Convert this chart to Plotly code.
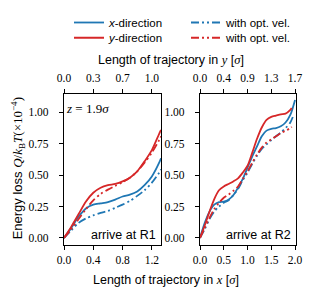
import plotly.graph_objects as go

BLUE = "#1f77b4"
RED = "#d62728"

# ---- data: arrive at R1 (left panel) ----
x_r1 = [0, 0.1, 0.2, 0.3, 0.4, 0.5, 0.6, 0.7, 0.8, 0.9, 1.0, 1.1, 1.2, 1.3, 1.325]
blue_solid_r1 = [0, 0.08, 0.17, 0.235, 0.265, 0.275, 0.285, 0.305, 0.33, 0.345, 0.37, 0.42, 0.49, 0.6, 0.635]
blue_opt_r1 = [0, 0.06, 0.12, 0.155, 0.18, 0.2, 0.215, 0.24, 0.265, 0.295, 0.335, 0.38, 0.44, 0.52, 0.545]
red_solid_r1 = [0, 0.09, 0.19, 0.29, 0.36, 0.40, 0.42, 0.43, 0.45, 0.48, 0.53, 0.61, 0.7, 0.83, 0.86]
red_opt_r1 = [0, 0.07, 0.15, 0.23, 0.3, 0.35, 0.385, 0.415, 0.445, 0.48, 0.53, 0.6, 0.68, 0.78, 0.81]

# ---- data: arrive at R2 (right panel) ----
x_r2_blue = [0, 0.1, 0.2, 0.3, 0.4, 0.5, 0.6, 0.7, 0.8, 0.9, 1.0, 1.1, 1.2, 1.3, 1.4, 1.5, 1.6, 1.7, 1.8, 1.9, 2.0]
blue_solid_r2 = [0, 0.12, 0.21, 0.265, 0.285, 0.29, 0.305, 0.34, 0.40, 0.47, 0.56, 0.65, 0.73, 0.81, 0.855, 0.87, 0.875, 0.89, 0.92, 0.98, 1.10]
x_r2_blue_opt = [0, 0.1, 0.2, 0.3, 0.4, 0.5, 0.6, 0.7, 0.8, 0.9, 1.0, 1.1, 1.2, 1.3, 1.4, 1.5, 1.6, 1.7, 1.8, 1.9, 1.97]
blue_opt_r2 = [0, 0.07, 0.15, 0.21, 0.25, 0.28, 0.30, 0.34, 0.39, 0.46, 0.52, 0.59, 0.655, 0.71, 0.745, 0.78, 0.81, 0.84, 0.875, 0.92, 0.98]
x_r2_red = [0, 0.1, 0.2, 0.3, 0.4, 0.5, 0.6, 0.7, 0.8, 0.9, 1.0, 1.1, 1.2, 1.3, 1.4, 1.5, 1.6, 1.7, 1.8, 1.9, 1.93]
red_solid_r2 = [0, 0.10, 0.21, 0.31, 0.38, 0.41, 0.43, 0.45, 0.475, 0.52, 0.575, 0.68, 0.79, 0.88, 0.94, 0.965, 0.975, 0.985, 0.99, 1.02, 1.035]
red_opt_r2 = [0, 0.08, 0.16, 0.23, 0.28, 0.32, 0.345, 0.375, 0.41, 0.47, 0.53, 0.60, 0.665, 0.72, 0.76, 0.785, 0.81, 0.835, 0.855, 0.875, 0.885]

# ---- ticks ----
y_ticks = [0.0, 0.25, 0.5, 0.75, 1.0]
y_ticklabels = ["0.00", "0.25", "0.50", "0.75", "1.00"]
x1_ticks = [0.0, 0.4, 0.8, 1.2]
x1_ticklabels = ["0.0", "0.4", "0.8", "1.2"]
x1_top_ticklabels = ["0.0", "0.3", "0.7", "1.0"]
x2_ticks = [0.0, 0.5, 1.0, 1.5, 2.0]
x2_ticklabels = ["0.0", "0.5", "1.0", "1.5", "2.0"]
x2_top_ticklabels = ["0.0", "0.4", "0.9", "1.3", "1.7"]

SERIF = "Liberation Serif"
SANS = "Liberation Sans"
DASH = "8px,3px,2px,3px,2px,3px"
LW = 1.8

W, H = 316, 299
OFF = 8  # page body margin offset


def px(x):
    return (x - OFF) / W


def py(y):
    return 1 - (y - OFF) / H


fig = go.Figure()


def add(x, y, color, dash, name, xa, ya, show, legend="legend", opacity=1.0):
    fig.add_trace(go.Scatter(
        x=x, y=y, mode="lines", name=name, showlegend=show, opacity=opacity,
        legend=legend,
        line=dict(color=color, width=LW, dash=dash, shape="spline", smoothing=0.8),
        xaxis=xa, yaxis=ya, hoverinfo="skip"))


add(x_r1, blue_solid_r1, BLUE, "solid", "<i>x</i>-direction", "x", "y", True, "legend")
add(x_r1, blue_opt_r1, BLUE, DASH, "with opt. vel.", "x", "y", True, "legend")
add(x_r1, red_solid_r1, RED, "solid", "<i>y</i>-direction", "x", "y", True, "legend2")
add(x_r1, red_opt_r1, RED, DASH, "with opt. vel.", "x", "y", True, "legend2")

add(x_r2_blue, blue_solid_r2, BLUE, "solid", "x2", "x2", "y2", False)
add(x_r2_blue_opt, blue_opt_r2, BLUE, DASH, "x2o", "x2", "y2", False)
add(x_r2_red, red_solid_r2, RED, "solid", "y2", "x2", "y2", False)
add(x_r2_red, red_opt_r2, RED, DASH, "y2o", "x2", "y2", False)

# transparent copies so the top (secondary) axes get drawn
add(x_r1, red_solid_r1, RED, "solid", "top1", "x3", "y", False, opacity=0)
add(x_r2_red, red_solid_r2, RED, "solid", "top2", "x4", "y2", False, opacity=0)

d1 = [px(64), px(161)]
d2 = [px(200), px(296)]
dy = [py(244), py(90)]
yr = [-0.057, 1.15]

tickfont = dict(family=SERIF, size=11.5, color="black")
common_x = dict(showline=True, linecolor="black", linewidth=1.2, mirror=True,
                ticks="outside", ticklen=4, tickwidth=1, tickcolor="black",
                showgrid=False, zeroline=False, tickfont=tickfont,
                automargin=False)
common_y = dict(showline=True, linecolor="black", linewidth=1.2, mirror=True,
                ticks="outside", ticklen=4, tickwidth=1, tickcolor="black",
                showgrid=False, zeroline=False, tickfont=tickfont,
                range=yr, tickvals=y_ticks, ticktext=y_ticklabels,
                ticklabelstandoff=8, automargin=False)
top_x = dict(side="top", ticks="outside", ticklen=4, tickwidth=1, tickcolor="black",
             showgrid=False, zeroline=False, showline=False, tickfont=tickfont,
             ticklabelstandoff=2, automargin=False)

legfont = dict(family=SANS, size=11.5, color="black")
fig.update_layout(
    template="none",
    width=W, height=H,
    margin=dict(l=0, r=0, t=0, b=0, pad=0),
    paper_bgcolor="white", plot_bgcolor="white",
    xaxis=dict(domain=d1, anchor="y", range=[0, 1.325], tickvals=x1_ticks,
               ticktext=x1_ticklabels, **common_x),
    yaxis=dict(domain=dy, anchor="x", **common_y),
    xaxis2=dict(domain=d2, anchor="y2", range=[0, 2.02], tickvals=x2_ticks,
                ticktext=x2_ticklabels, **common_x),
    yaxis2=dict(domain=dy, anchor="x2", **common_y),
    xaxis3=dict(overlaying="x", anchor="y", range=[0, 1.325],
                tickvals=x1_ticks, ticktext=x1_top_ticklabels, **top_x),
    xaxis4=dict(overlaying="x2", anchor="y2", range=[0, 2.02],
                tickvals=x2_ticks, ticktext=x2_top_ticklabels, **top_x),
    showlegend=True,
    legend=dict(orientation="h", x=px(69), y=1 + 5.6 / H, xanchor="left", yanchor="top",
                entrywidth=72, entrywidthmode="pixels", font=legfont,
                bgcolor="rgba(0,0,0,0)", borderwidth=0),
    legend2=dict(orientation="h", x=px(69), y=1 - 10.4 / H, xanchor="left", yanchor="top",
                 entrywidth=72, entrywidthmode="pixels", font=legfont,
                 bgcolor="rgba(0,0,0,0)", borderwidth=0),
    font=dict(family=SANS, size=11.5, color="black"),
)

ann = []
ann.append(dict(text="Length of trajectory in <i style='font-family:Liberation Serif'>y</i> [<i style='font-family:Liberation Serif'>σ</i>]",
                x=px(171), y=py(56), xref="paper", yref="paper", showarrow=False,
                xanchor="center", yanchor="middle", font=dict(family=SANS, size=12.5)))
ann.append(dict(text="Length of trajectory in <i style='font-family:Liberation Serif'>x</i> [<i style='font-family:Liberation Serif'>σ</i>]",
                x=px(166), y=py(280), xref="paper", yref="paper", showarrow=False,
                xanchor="center", yanchor="middle", font=dict(family=SANS, size=12.5)))
ann.append(dict(text="Energy loss <span style='font-family:Liberation Serif'><i>Q</i>/<i>k</i><sub>B</sub><i>T</i>(×10<sup>−4</sup>)</span>",
                x=px(18), y=py(166), xref="paper", yref="paper", showarrow=False,
                textangle=-90, xanchor="center", yanchor="middle", font=dict(family=SANS, size=13)))
ann.append(dict(text="<i>z</i> = 1.9<i>σ</i>", x=0.005, y=1.03, xref="x", yref="y",
                showarrow=False, xanchor="left", yanchor="middle",
                font=dict(family=SERIF, size=13)))
ann.append(dict(text="arrive at R1", x=1.29, y=0.02, xref="x", yref="y",
                showarrow=False, xanchor="right", yanchor="middle",
                font=dict(family=SANS, size=12.5)))
ann.append(dict(text="arrive at R2", x=1.96, y=0.02, xref="x2", yref="y2",
                showarrow=False, xanchor="right", yanchor="middle",
                font=dict(family=SANS, size=12.5)))
fig.update_layout(annotations=ann)

fig.write_html("out.html")
